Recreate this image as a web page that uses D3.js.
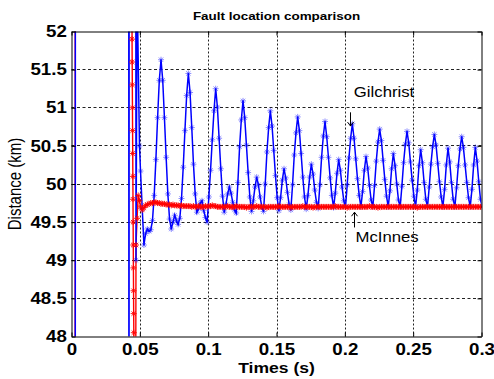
<!DOCTYPE html>
<html>
<head>
<meta charset="utf-8">
<script src="https://cdn.jsdelivr.net/npm/d3@7"></script>
<style>
  body { margin: 0; background: #fff; }
</style>
</head>
<body>
<script>
// ---- data ----
const xTicks = [0, 0.05, 0.1, 0.15, 0.2, 0.25, 0.3];
const xTickLabels = ["0", "0.05", "0.1", "0.15", "0.2", "0.25", "0.3"];
const yTicks = [48, 48.5, 49, 49.5, 50, 50.5, 51, 51.5, 52];
const yTickLabels = ["48", "48.5", "49", "49.5", "50", "50.5", "51", "51.5", "52"];

// sampling of the estimator output after the start transient
const sampleStart = 0.0505;
const samplePeriod = 0.00125;

// start transient (time s, distance km), values off the axis run out of view
const gilchristLead = [
  [0.0027, 40], [0.0029, 60], [0.0418, 60], [0.0421, 40], [0.0422, 60],
  [0.0468, 60], [0.0472, 49.0], [0.0480, 52.6], [0.04975, 50.5]
];
const gilchrist = [
  50.17, 49.68, 49.20, 49.35, 49.41, 49.38, 49.40, 49.52,
  49.85, 50.32, 50.87, 51.36, 51.63, 51.36, 50.87, 50.35,
  49.87, 49.54, 49.41, 49.50, 49.59, 49.52, 49.47, 49.55,
  49.81, 50.22, 50.70, 51.16, 51.45, 51.20, 50.74, 50.26,
  49.87, 49.63, 49.68, 49.75, 49.78, 49.65, 49.56, 49.50,
  49.83, 50.18, 50.58, 50.96, 51.25, 51.01, 50.60, 50.20,
  49.84, 49.63, 49.73, 49.87, 49.96, 49.88, 49.76, 49.66,
  49.62, 50.02, 50.49, 50.84, 51.09, 50.87, 50.51, 50.15,
  49.83, 49.64, 49.78, 49.96, 50.09, 49.99, 49.83, 49.70,
  49.64, 50.00, 50.42, 50.74, 50.96, 50.76, 50.44, 50.11,
  49.82, 49.65, 49.82, 50.05, 50.20, 50.08, 49.89, 49.73,
  49.66, 49.99, 50.38, 50.67, 50.88, 50.70, 50.40, 50.09,
  49.83, 49.67, 49.85, 50.09, 50.26, 50.13, 49.92, 49.76,
  49.68, 49.99, 50.35, 50.63, 50.82, 50.62, 50.35, 50.08,
  49.85, 49.69, 49.88, 50.14, 50.32, 50.18, 49.96, 49.78,
  49.70, 49.99, 50.34, 50.60, 50.79, 50.60, 50.33, 50.07,
  49.85, 49.70, 49.90, 50.18, 50.36, 50.21, 49.98, 49.79,
  49.70, 49.98, 50.30, 50.55, 50.72, 50.57, 50.31, 50.06,
  49.84, 49.70, 49.91, 50.20, 50.40, 50.24, 50.00, 49.79,
  49.70, 49.97, 50.28, 50.52, 50.69, 50.54, 50.29, 50.05,
  49.84, 49.70, 49.92, 50.24, 50.45, 50.28, 50.02, 49.80,
  49.70, 49.96, 50.26, 50.49, 50.65, 50.51, 50.27, 50.03,
  49.83, 49.70, 49.93, 50.25, 50.47, 50.29, 50.02, 49.80,
  49.70, 49.95, 50.24, 50.46, 50.62, 50.48, 50.25, 50.02,
  49.82, 49.70, 49.93, 50.25, 50.48, 50.30, 50.03, 49.80,
  49.70
];

const mcinnesLead = [
  [0.0026, 40], [0.0028, 60], [0.0441, 60],
  [0.0443, 51.9], [0.0444, 51.6], [0.0445, 51.3], [0.0446, 51.0], [0.0447, 50.7],
  [0.0448, 50.4], [0.0449, 50.1], [0.0450, 49.8], [0.0451, 49.5], [0.0452, 49.2],
  [0.0453, 48.9], [0.0454, 48.6], [0.0455, 48.3], [0.0456, 48.05],
  [0.0458, 40], [0.0462, 40], [0.0472, 49.2], [0.0480, 49.55],
  [0.0488, 49.85], [0.0497, 49.78]
];
const mcinnes = [
  49.70, 49.66, 49.69, 49.72, 49.73, 49.74, 49.75, 49.75,
  49.76, 49.76, 49.75, 49.75, 49.74, 49.74, 49.74, 49.73,
  49.73, 49.73, 49.72, 49.73, 49.72, 49.72, 49.72, 49.71,
  49.72, 49.71, 49.71, 49.71, 49.71, 49.71, 49.70, 49.71,
  49.70, 49.70, 49.71, 49.70, 49.70, 49.70, 49.71, 49.70,
  49.71, 49.71, 49.72, 49.71, 49.71, 49.70, 49.70, 49.70,
  49.70, 49.70, 49.70, 49.71, 49.70, 49.70, 49.70, 49.70,
  49.71, 49.70, 49.70, 49.70, 49.70, 49.70, 49.69, 49.70,
  49.70, 49.70, 49.70, 49.70, 49.71, 49.70, 49.70, 49.70,
  49.70, 49.70, 49.69, 49.70, 49.70, 49.70, 49.70, 49.70,
  49.70, 49.71, 49.70, 49.70, 49.70, 49.70, 49.70, 49.70,
  49.69, 49.70, 49.70, 49.70, 49.70, 49.70, 49.70, 49.71,
  49.70, 49.70, 49.70, 49.70, 49.70, 49.69, 49.70, 49.70,
  49.70, 49.70, 49.70, 49.70, 49.70, 49.70, 49.70, 49.70,
  49.70, 49.70, 49.71, 49.70, 49.70, 49.70, 49.70, 49.70,
  49.70, 49.69, 49.70, 49.70, 49.70, 49.70, 49.70, 49.70,
  49.70, 49.70, 49.70, 49.70, 49.70, 49.70, 49.71, 49.70,
  49.70, 49.70, 49.70, 49.69, 49.70, 49.70, 49.70, 49.70,
  49.70, 49.70, 49.70, 49.70, 49.70, 49.70, 49.70, 49.70,
  49.70, 49.70, 49.70, 49.70, 49.70, 49.70, 49.70, 49.70,
  49.70, 49.70, 49.69, 49.70, 49.70, 49.70, 49.70, 49.70,
  49.70, 49.70, 49.70, 49.70, 49.70, 49.70, 49.70, 49.70,
  49.70, 49.70, 49.70, 49.70, 49.70, 49.70, 49.70, 49.70,
  49.70, 49.70, 49.70, 49.70, 49.70, 49.70, 49.70, 49.70,
  49.70, 49.70, 49.70, 49.70, 49.70, 49.70, 49.70, 49.70,
  49.70
];

const title = "Fault location comparison";
const xLabel = "Times (s)";
const yLabel = "Distance (km)";

// ---- chart ----
const width = 494;
const height = 379;
const plot = { left: 71.5, right: 481.5, top: 31.5, bottom: 336.5 };
const stretch = "scale(1.17,1)";   // the figure's fonts are drawn a bit wide

const x = d3.scaleLinear().domain([0, 0.3]).range([plot.left, plot.right]);
const y = d3.scaleLinear().domain([48, 52]).range([plot.bottom, plot.top]);

const svg = d3.select("body").append("svg")
  .attr("width", width)
  .attr("height", height)
  .attr("viewBox", [0, 0, width, height])
  .style("font-family", "'Liberation Sans', Arial, sans-serif");

svg.append("defs").append("clipPath").attr("id", "plotclip")
  .append("rect")
  .attr("x", plot.left).attr("y", plot.top)
  .attr("width", plot.right - plot.left).attr("height", plot.bottom - plot.top);

// dotted grid
const grid = svg.append("g").attr("stroke", "#222").attr("stroke-width", 1);
grid.selectAll(".vgrid").data(xTicks.slice(1, -1)).join("line")
  .attr("x1", d => Math.round(x(d)) + 0.5).attr("x2", d => Math.round(x(d)) + 0.5)
  .attr("y1", plot.top).attr("y2", plot.bottom)
  .attr("stroke-dasharray", "2,2");
grid.selectAll(".hgrid").data(yTicks.slice(1, -1)).join("line")
  .attr("x1", plot.left).attr("x2", plot.right)
  .attr("y1", d => Math.round(y(d) - 0.5) + 0.5).attr("y2", d => Math.round(y(d) - 0.5) + 0.5)
  .attr("stroke-dasharray", "3,2.5");

function toPoints(lead, values) {
  return lead.concat(values.map((v, i) => [sampleStart + i * samplePeriod, v]));
}

const star = "M-3,0H3M0,-3V3M-2.2,-2.2L2.2,2.2M-2.2,2.2L2.2,-2.2";
const line = d3.line().x(d => x(d[0])).y(d => y(d[1]));

const data = svg.append("g").attr("clip-path", "url(#plotclip)");

function drawLine(points, color, lineWidth) {
  data.append("path")
    .datum(points)
    .attr("fill", "none")
    .attr("stroke", color)
    .attr("stroke-width", lineWidth)
    .attr("d", line);
}
function drawMarkers(points, color, opacity) {
  data.append("g").selectAll("path")
    .data(points.filter(d => d[1] > 47.5 && d[1] < 52.5))
    .join("path")
    .attr("transform", d => `translate(${x(d[0])},${y(d[1])})`)
    .attr("d", star)
    .attr("fill", "none")
    .attr("stroke", color)
    .attr("stroke-width", 1)
    .attr("stroke-opacity", opacity);
}

const gilchristPts = toPoints(gilchristLead, gilchrist);
const mcinnesPts = toPoints(mcinnesLead, mcinnes);

// red trace under the blue one, red markers on top (as in the figure)
drawLine(mcinnesPts, "#ff0000", 1.4);
drawMarkers(gilchristPts, "#0000ff", 0.45);
drawLine(gilchristPts, "#0000ff", 1.5);
drawMarkers(mcinnesPts, "#ff0000", 0.9);

// axes with inward ticks on all four sides
const fmtX = d => xTickLabels[xTicks.indexOf(d)];
const fmtY = d => yTickLabels[yTicks.indexOf(d)];

const xAxis = svg.append("g")
  .attr("transform", `translate(0,${plot.bottom})`)
  .call(d3.axisBottom(x).tickValues(xTicks).tickFormat(fmtX).tickSize(-4).tickSizeOuter(0).tickPadding(7));
const yAxis = svg.append("g")
  .attr("transform", `translate(${plot.left},0)`)
  .call(d3.axisLeft(y).tickValues(yTicks).tickFormat(fmtY).tickSize(-4).tickSizeOuter(0).tickPadding(4));
svg.append("g")
  .attr("transform", `translate(0,${plot.top})`)
  .call(d3.axisTop(x).tickValues(xTicks).tickFormat("").tickSize(-4).tickSizeOuter(0));
svg.append("g")
  .attr("transform", `translate(${plot.right},0)`)
  .call(d3.axisRight(y).tickValues(yTicks).tickFormat("").tickSize(-4).tickSizeOuter(0));

svg.selectAll(".domain").attr("stroke", "#000");
svg.selectAll(".tick line").attr("stroke", "#000");

[xAxis, yAxis].forEach(a => {
  a.selectAll("text")
    .attr("font-family", "'Liberation Sans', Arial, sans-serif")
    .attr("font-size", 16)
    .attr("font-weight", "bold")
    .attr("fill", "#000")
    .attr("transform", stretch);
});

// titles
svg.append("text")
  .attr("transform", `translate(${(plot.left + plot.right) / 2},19.5) ${stretch}`)
  .attr("text-anchor", "middle")
  .attr("font-size", 11.5)
  .attr("font-weight", "bold")
  .text(title);

svg.append("text")
  .attr("transform", `translate(${(plot.left + plot.right) / 2},373) ${stretch}`)
  .attr("text-anchor", "middle")
  .attr("font-size", 15)
  .attr("font-weight", "bold")
  .text(xLabel);

svg.append("text")
  .attr("transform", `translate(21,${(plot.top + plot.bottom) / 2}) rotate(-90) scale(1,1.17)`)
  .attr("text-anchor", "middle")
  .attr("font-size", 15)
  .text(yLabel);

// annotations
const notes = svg.append("g").attr("stroke", "#000").attr("stroke-width", 1).attr("fill", "none");
function arrow(t, vFrom, vTo) {
  const ax = Math.round(x(t)) + 0.5;
  const y0 = y(vFrom), y1 = y(vTo);
  const dir = y1 > y0 ? 1 : -1;
  notes.append("line").attr("x1", ax).attr("x2", ax).attr("y1", y0).attr("y2", y1);
  notes.append("path").attr("d", `M${ax - 3},${y1 - dir * 4}L${ax},${y1}L${ax + 3},${y1 - dir * 4}`);
}
arrow(0.2036, 50.94, 50.76);
arrow(0.2066, 49.43, 49.63);

svg.append("text")
  .attr("transform", `translate(${x(0.2066)},${y(51.14)}) ${stretch}`)
  .attr("font-size", 14.3)
  .text("Gilchrist");
svg.append("text")
  .attr("transform", `translate(${x(0.2078)},${y(49.237)}) ${stretch}`)
  .attr("font-size", 14.3)
  .text("McInnes");
</script>
</body>
</html>
